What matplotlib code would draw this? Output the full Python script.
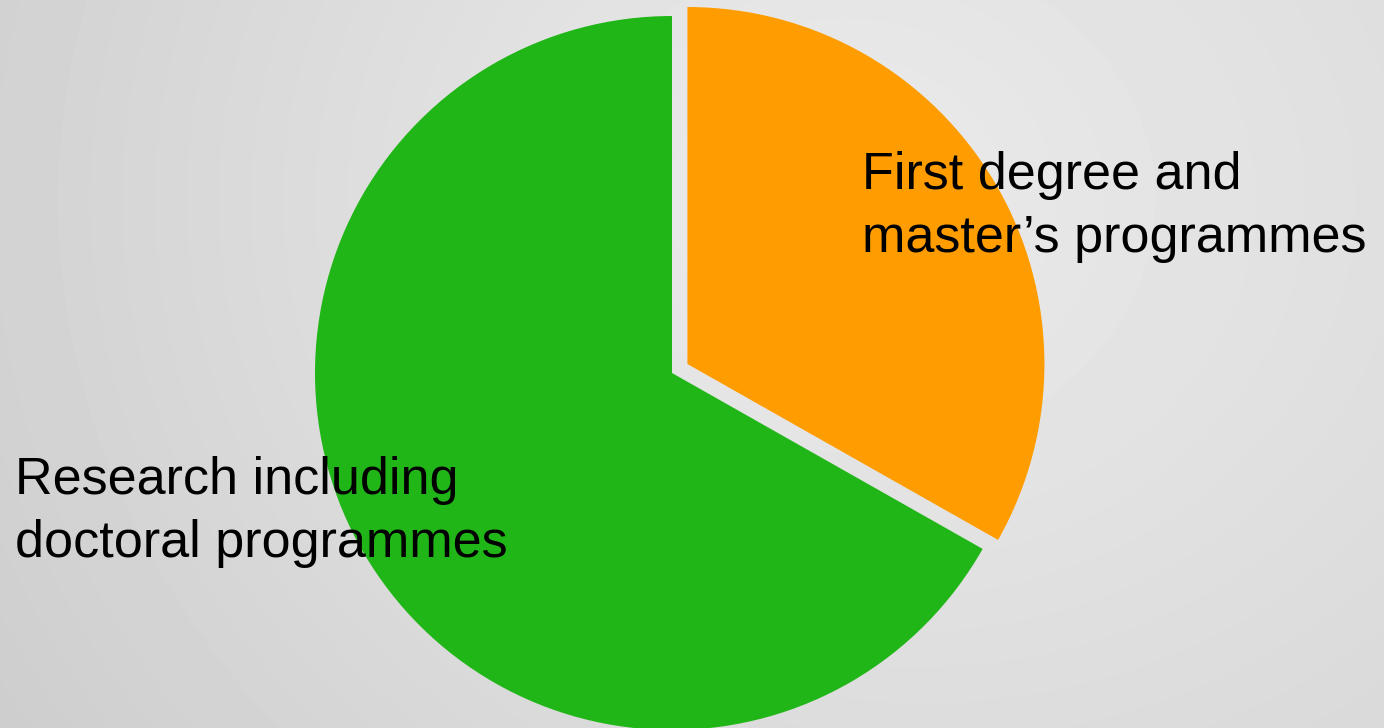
import matplotlib.pyplot as plt
import numpy as np

labels = ["First degree and\nmaster\u2019s programmes", "Research including\ndoctoral programmes"]
shares = [33.2, 66.8]
colors = ["#ff9d00", "#21b618"]
explode = [0.05, 0.0]

plt.rcParams["font.family"] = ["Liberation Sans", "DejaVu Sans"]

W, H = 1384, 728
fig = plt.figure(figsize=(W / 100, H / 100), dpi=100)

# grey backdrop: darker on the left, paper-light on the right and upper middle
bg = fig.add_axes([0, 0, 1, 1])
yy, xx = np.mgrid[0:H, 0:W]
d = np.sqrt(((xx - 800) / 900) ** 2 + ((yy - 200) / 800) ** 2)
shade = 0.905 - 0.09 * d + 0.03 * (xx / W)
shade = np.clip(shade, 0.79, 0.92)
bg.imshow(shade, cmap="gray", vmin=0, vmax=1, aspect="auto", extent=(0, W, H, 0))
bg.axis("off")

# pie: centre at (672, 373) px, radius 357 px
cx, cy, r = 672, 373, 357
ax = fig.add_axes([0, 0, 1, 1])
ax.patch.set_alpha(0)
ax.pie(shares, colors=colors, explode=explode, startangle=90, counterclock=False,
       wedgeprops=dict(linewidth=0))
ax.set_aspect("auto")
ax.set_xlim(-cx / r, (W - cx) / r)
ax.set_ylim(-(H - cy) / r, cy / r)
ax.axis("off")

# baseline of the last line of each label
fig.text(862 / W, 1 - 252 / H, labels[0], fontsize=37.5, va="baseline", ha="left",
         linespacing=1.36)
fig.text(15 / W, 1 - 557 / H, labels[1], fontsize=37.5, va="baseline", ha="left",
         linespacing=1.36)

fig.savefig("out.png", dpi=100)
